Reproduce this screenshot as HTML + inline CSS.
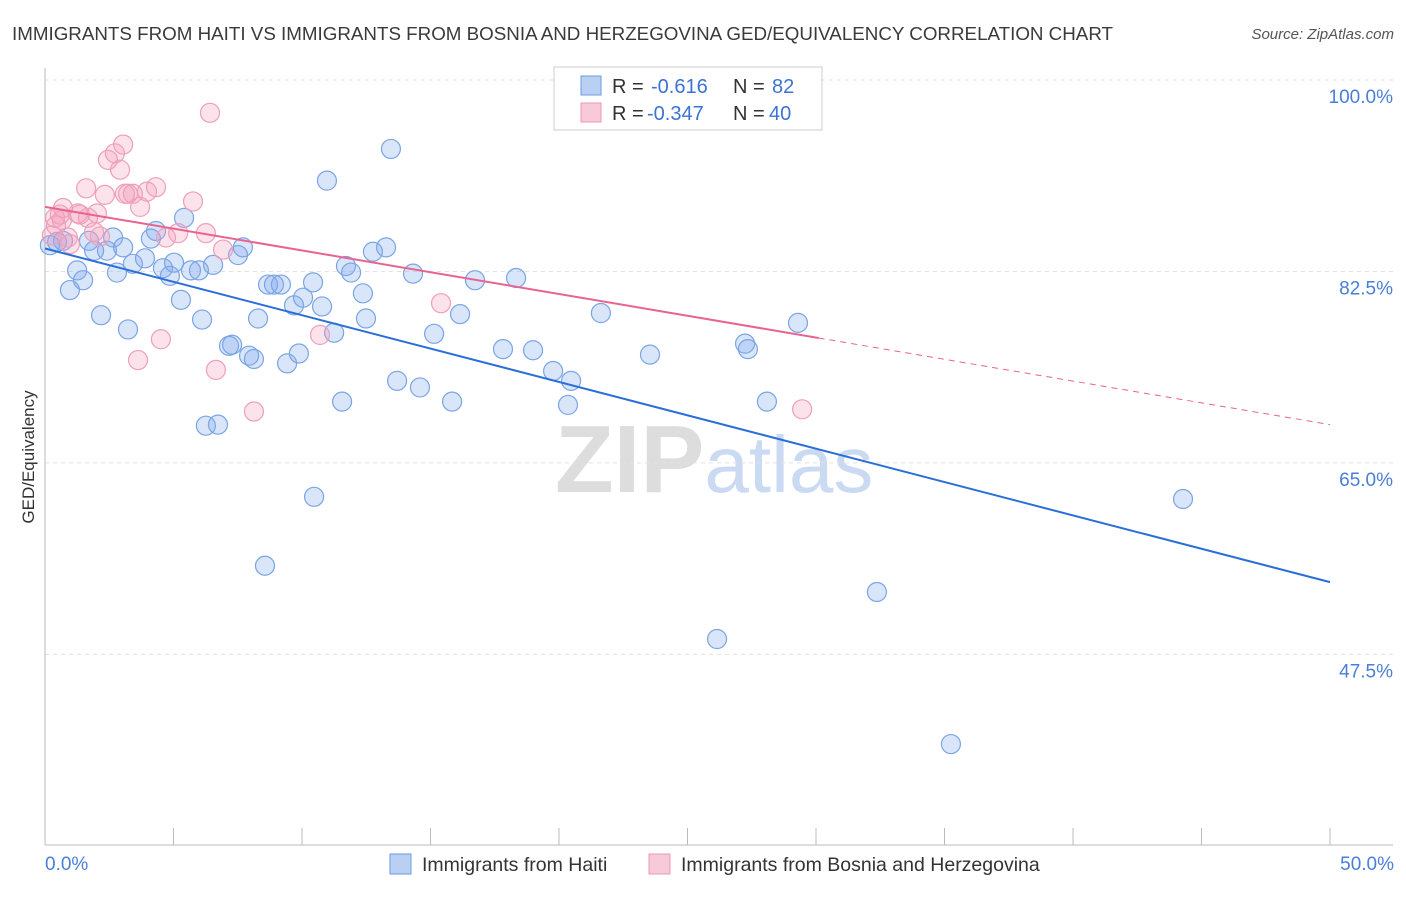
<!DOCTYPE html>
<html><head><meta charset="utf-8"><style>
body{margin:0;background:#fff;font-family:"Liberation Sans",sans-serif}
svg text{font-family:"Liberation Sans",sans-serif}
</style></head><body>
<svg id="chart" width="1406" height="892" xmlns="http://www.w3.org/2000/svg">
<text x="12" y="40" font-size="18" fill="#3a3a3a" textLength="1101" lengthAdjust="spacingAndGlyphs">IMMIGRANTS FROM HAITI VS IMMIGRANTS FROM BOSNIA AND HERZEGOVINA GED/EQUIVALENCY CORRELATION CHART</text>
<text x="1394" y="39" font-size="15" fill="#555" font-style="italic" text-anchor="end">Source: ZipAtlas.com</text>
<text x="555" y="492" font-size="96" font-family="Liberation Serif" fill="#ddd" font-weight="bold">ZIP<tspan fill="#c9daf2" font-family="Liberation Sans" font-weight="normal" font-size="80">atlas</tspan></text>
<g id="grid"></g><g id="axes"></g><g id="pts"></g><g id="lines"></g>
<text transform="translate(34,457) rotate(-90)" font-size="17" fill="#333" text-anchor="middle">GED/Equivalency</text>
<text x="45" y="870" font-size="19" fill="#4a7fd6">0.0%</text>
<text x="1394" y="870" font-size="19" fill="#4a7fd6" text-anchor="end">50.0%</text>
<g>
<rect x="554" y="67" width="268" height="63" fill="#fff" stroke="#ccc"/>
<rect x="581" y="76" width="20" height="19" fill="#b9d0f3" stroke="#6a9ae0"/>
<rect x="581" y="103" width="20" height="19" fill="#f8c9d8" stroke="#eb98b3"/>
<text x="612" y="93" font-size="20" fill="#333">R = <tspan x="651" fill="#3b73d4">-0.616</tspan><tspan x="733">N = </tspan><tspan x="772" fill="#3b73d4">82</tspan></text>
<text x="612" y="120" font-size="20" fill="#333">R = <tspan x="647" fill="#3b73d4">-0.347</tspan><tspan x="733">N = </tspan><tspan x="769" fill="#3b73d4">40</tspan></text>
</g>
<g>
<rect x="390" y="854" width="21" height="20" fill="#b9d0f3" stroke="#6a9ae0"/>
<text x="422" y="871" font-size="19.5" fill="#333">Immigrants from Haiti</text>
<rect x="649" y="854" width="21" height="20" fill="#f8c9d8" stroke="#eb98b3"/>
<text x="681" y="871" font-size="19.5" fill="#333">Immigrants from Bosnia and Herzegovina</text>
</g>
</svg>
<script>
const yTicks=[100,82.5,65,47.5];
const yTickLabels=["100.0%","82.5%","65.0%","47.5%"];
const xTicks=[0,5,10,15,20,25,30,35,40,45,50];
const haitiX=[0.19,0.47,0.70,1.71,2.65,3.04,2.41,1.91,1.25,1.48,0.97,2.80,3.42,3.89,4.12,4.32,4.59,4.86,5.02,5.41,5.29,5.68,5.99,6.54,7.51,7.70,2.18,3.23,6.11,7.16,7.28,7.94,8.13,8.29,8.68,8.91,9.18,9.42,9.69,9.88,10.04,10.43,10.78,10.97,11.25,11.56,11.71,11.91,12.37,12.49,12.76,13.27,13.46,13.70,14.32,14.59,15.14,15.84,16.15,16.73,17.82,18.33,18.99,19.77,20.47,20.35,21.63,23.54,27.24,27.35,28.09,29.30,10.47,8.56,6.26,6.73,44.28,32.37,26.15,35.25];
const haitiY=[84.9,85.2,85.3,85.3,85.6,84.7,84.4,84.4,82.6,81.7,80.8,82.4,83.2,83.7,85.5,86.2,82.8,82.1,83.3,87.4,79.9,82.6,82.6,83.1,84.0,84.7,78.5,77.2,78.1,75.7,75.8,74.8,74.5,78.2,81.3,81.3,81.3,74.1,79.4,75.0,80.1,81.5,79.3,90.8,76.9,70.6,83.0,82.4,80.5,78.2,84.3,84.7,93.7,72.5,82.3,71.9,76.8,70.6,78.6,81.7,75.4,81.9,75.3,73.4,72.5,70.3,78.7,74.9,75.9,75.4,70.6,77.8,61.9,55.6,68.4,68.5,61.7,53.2,48.9,39.3];
const bosniaX=[0.39,0.66,0.27,0.89,0.70,1.28,1.60,1.67,2.02,1.91,2.33,2.45,2.72,2.92,3.04,3.23,3.42,3.70,3.97,4.32,4.71,5.18,5.76,6.26,6.42,6.93,4.51,3.62,6.65,8.13,10.70,15.41,29.46,20.62,0.97,2.14,0.43,0.58,1.36,3.11];
const bosniaY=[87.4,87.2,85.8,85.6,88.3,87.8,90.1,87.4,87.8,86.1,89.5,92.7,93.3,91.8,94.1,89.6,89.6,88.4,89.8,90.2,85.6,86.0,88.9,86.0,97.0,84.5,76.3,74.4,73.5,69.7,76.7,79.6,69.9,99.1,85.0,85.7,86.7,87.7,87.7,89.6];
const haitiTrend=[84.6,54.1];
const bosniaTrend=[88.4,68.5];
const bosniaSolidEnd=30.1;
const NS="http://www.w3.org/2000/svg";
const X=v=>45+v/50*1285, Y=v=>80+(100-v)*10.94;
function mk(tag,attrs,parent){const e=document.createElementNS(NS,tag);for(const k in attrs)e.setAttribute(k,attrs[k]);parent.appendChild(e);return e;}
const grid=document.getElementById('grid'),axes=document.getElementById('axes'),pts=document.getElementById('pts'),lines=document.getElementById('lines');
yTicks.forEach((t,i)=>{
 const l=mk('line',{x1:45,x2:1393,y1:Y(t),y2:Y(t),stroke:'#e2e2e2','stroke-dasharray':'4,4'},grid);
 
 
 const tx=mk('text',{x:1393,y:Y(t)+23,'font-size':19,fill:'#4a7fd6','text-anchor':'end'},grid);
 tx.textContent=yTickLabels[i];
 
 
});
const ya=mk('line',{x1:45,x2:45,y1:68,y2:845,stroke:'#bbb'},axes);


const xa=mk('line',{x1:45,x2:1393,y1:845,y2:845,stroke:'#bbb'},axes);


xTicks.forEach(t=>{
 const l=mk('line',{x1:X(t),x2:X(t),y1:828,y2:845,stroke:'#bbb'},axes);
 
 
});
function dots(xs,ys,fill,stroke,name){xs.forEach((x,i)=>{
 const c=mk('circle',{cx:X(x),cy:Y(ys[i]),r:9.5,fill:fill,stroke:stroke,'stroke-width':1.2},pts);
 
 
});}
dots(haitiX,haitiY,'rgba(130,170,235,0.3)','#7aa5e4','haiti-point');
dots(bosniaX,bosniaY,'rgba(244,160,188,0.3)','#ee9fb9','bosnia-point');
const bl=mk('line',{x1:X(0),y1:Y(haitiTrend[0]),x2:X(50),y2:Y(haitiTrend[1]),stroke:'#2a6fd6','stroke-width':2},lines);


const pe=bosniaTrend[0]+(bosniaTrend[1]-bosniaTrend[0])*bosniaSolidEnd/50;
const pl=mk('line',{x1:X(0),y1:Y(bosniaTrend[0]),x2:X(bosniaSolidEnd),y2:Y(pe),stroke:'#e8648f','stroke-width':2},lines);


const pd=mk('line',{x1:X(bosniaSolidEnd),y1:Y(pe),x2:X(50),y2:Y(bosniaTrend[1]),stroke:'#e8648f','stroke-width':1,'stroke-dasharray':'6,5'},lines);


</script>
</body></html>
